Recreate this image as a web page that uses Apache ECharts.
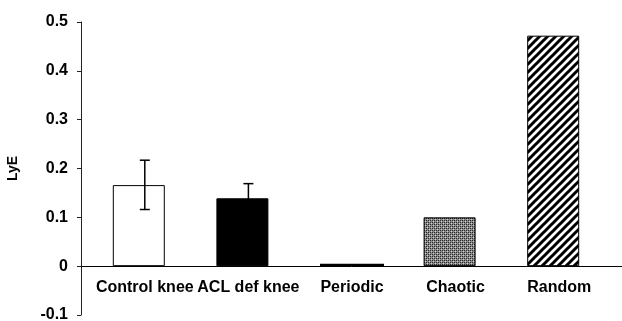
<!DOCTYPE html>
<html>
<head>
<meta charset="utf-8">
<script src="https://cdn.jsdelivr.net/npm/echarts@6/dist/echarts.min.js"></script>
<style>
html,body{margin:0;padding:0;background:#fff;}
#chart{width:622px;height:321px;}
</style>
</head>
<body>
<div id="chart"></div>
<script>
var categories = ['Control knee', 'ACL def knee', 'Periodic', 'Chaotic', 'Random'];
var meanValues = [0.166, 0.139, null, 0.1, 0.472];
var periodicValues = [null, null, 0.005, null, null];
var errLow = [0.116, 0.109, null, null, null];
var errHigh = [0.217, 0.169, null, null, null];
var yTicks = [-0.1, 0, 0.1, 0.2, 0.3, 0.4, 0.5];
var yName = 'LyE';

function hatchPattern() {
  var c = document.createElement('canvas');
  c.width = 8; c.height = 8;
  var g = c.getContext('2d');
  g.fillStyle = '#fff'; g.fillRect(0, 0, 8, 8);
  g.strokeStyle = '#000'; g.lineWidth = 3;
  g.beginPath();
  g.moveTo(-1, 9); g.lineTo(9, -1);
  g.moveTo(-3, 3); g.lineTo(3, -3);
  g.moveTo(5, 11); g.lineTo(11, 5);
  g.stroke();
  return c;
}
function dotPattern() {
  var c = document.createElement('canvas');
  c.width = 4; c.height = 4;
  var g = c.getContext('2d');
  g.fillStyle = '#8a8a8a'; g.fillRect(0, 0, 4, 4);
  g.fillStyle = '#2a2a2a'; g.fillRect(0, 0, 1, 1); g.fillRect(2, 2, 1, 1); g.fillRect(2, 0, 1, 1); g.fillRect(0, 2, 1, 1);
  g.fillStyle = '#d0d0d0'; g.fillRect(1, 1, 1, 1); g.fillRect(3, 3, 1, 1);
  return c;
}

var fills = [
  {color: '#fff', borderColor: '#000', borderWidth: 1},
  {color: '#000', borderColor: '#000', borderWidth: 1},
  null,
  {color: {image: dotPattern(), repeat: 'repeat'}, borderColor: '#000', borderWidth: 1},
  {color: {image: hatchPattern(), repeat: 'repeat'}, borderColor: '#000', borderWidth: 1}
];

var barData = meanValues.map(function (v, i) {
  if (v === null) return null;
  return {value: v, itemStyle: fills[i]};
});
var errData = [];
for (var i = 0; i < categories.length; i++) {
  if (errLow[i] !== null) errData.push([i, errLow[i], errHigh[i]]);
}

var H = 321, TOP = 22, BOTTOM = 6;
var yMin = yTicks[0], yMax = yTicks[yTicks.length - 1];
var plotH = H - TOP - BOTTOM;
var zeroOffset = -plotH * (0 - yMin) / (yMax - yMin);

var font = 'Liberation Sans, Arial, sans-serif';
var chart = echarts.init(document.getElementById('chart'), null, {renderer: 'canvas'});
chart.setOption({
  animation: false,
  backgroundColor: '#fff',
  grid: [
    {left: 93, right: 11, top: TOP, bottom: BOTTOM, containLabel: false, outerBoundsMode: 'none'},
    {left: 81, right: 0, top: TOP, bottom: BOTTOM, containLabel: false, outerBoundsMode: 'none'}
  ],
  xAxis: [
    {
      type: 'category', gridIndex: 0, data: categories,
      position: 'bottom', offset: zeroOffset,
      axisLine: {show: false, onZero: false},
      axisTick: {show: false},
      axisLabel: {interval: 0, margin: 13, color: '#000', fontFamily: font, fontWeight: 'bold', fontSize: 16}
    },
    {
      type: 'value', gridIndex: 1, min: 0, max: 1,
      axisLine: {show: true, onZero: true, lineStyle: {color: '#000', width: 1}},
      axisTick: {show: false}, axisLabel: {show: false}, splitLine: {show: false}
    }
  ],
  yAxis: [
    {
      type: 'value', gridIndex: 0, min: yMin, max: yMax, interval: 0.1,
      offset: 12,
      name: yName, nameLocation: 'middle', nameGap: 61, nameRotate: 90,
      nameTextStyle: {color: '#000', fontFamily: font, fontWeight: 'bold', fontSize: 14},
      axisLine: {show: true, onZero: false, lineStyle: {color: '#222', width: 1}},
      axisTick: {show: true, length: 4, lineStyle: {color: '#222'}},
      splitLine: {show: false},
      axisLabel: {
        margin: 13, color: '#000', fontFamily: font, fontWeight: 'bold', fontSize: 16,
        formatter: function (v) { var r = Math.round(v * 10) / 10; return r === 0 ? '0' : r.toFixed(1); }
      }
    },
    {
      type: 'value', gridIndex: 1, min: yMin, max: yMax,
      show: false, splitLine: {show: false}
    }
  ],
  series: [
    {
      type: 'bar', xAxisIndex: 0, yAxisIndex: 0, data: barData,
      barWidth: 52, barGap: '-100%', z: 3
    },
    {
      type: 'bar', xAxisIndex: 0, yAxisIndex: 0, data: periodicValues,
      barWidth: 64, barGap: '-100%', z: 3,
      itemStyle: {color: '#000', borderColor: '#000', borderWidth: 1.5}
    },
    {
      type: 'custom', xAxisIndex: 0, yAxisIndex: 0, z: 5,
      data: errData,
      encode: {x: 0, y: [1, 2]},
      renderItem: function (params, api) {
        var x = api.value(0);
        var lo = api.coord([x, api.value(1)]);
        var hi = api.coord([x, api.value(2)]);
        var hw = 5;
        var st = {stroke: '#000', lineWidth: 1.5};
        return {
          type: 'group',
          children: [
            {type: 'line', shape: {x1: lo[0], y1: lo[1], x2: hi[0], y2: hi[1]}, style: st},
            {type: 'line', shape: {x1: hi[0] - hw, y1: hi[1], x2: hi[0] + hw, y2: hi[1]}, style: st},
            {type: 'line', shape: {x1: lo[0] - hw, y1: lo[1], x2: lo[0] + hw, y2: lo[1]}, style: st}
          ]
        };
      }
    }
  ]
});
</script>
</body>
</html>
